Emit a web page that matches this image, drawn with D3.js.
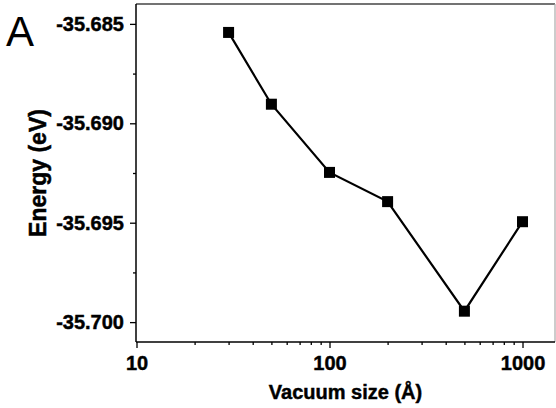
<!DOCTYPE html>
<html><head><meta charset="utf-8">
<script src="https://cdn.jsdelivr.net/npm/d3@7"></script>
<style>body{margin:0;background:#fff}svg{display:block}text{font-family:Arial,"Liberation Sans",sans-serif}</style>
</head><body>
<svg id="c" width="556" height="408"></svg>
<script>
const vacuumSizes = [30, 50, 100, 200, 500, 1000];
const energies = [-35.68543, -35.68904, -35.69247, -35.69394, -35.69945, -35.69495];
const yTicks = [-35.685, -35.690, -35.695, -35.700];
const yMinorTicks = [-35.6875, -35.6925, -35.6975];
const xTicks = [10, 100, 1000];
const xMinorTicks = [20,30,40,50,60,70,80,90,200,300,400,500,600,700,800,900];

const svg = d3.select("#c");
const L = 136, R = 555, T = 4, B = 342;
const x = d3.scaleLog().domain([10, 1470]).range([136.5, 554.8]);
const y = d3.scaleLinear().domain([-35.701, -35.684]).range([B, T]);

// frame top/right
svg.append("line").attr("x1", L).attr("x2", R).attr("y1", T).attr("y2", T).attr("stroke", "#444").attr("stroke-width", 1.5);
svg.append("line").attr("x1", R).attr("x2", R).attr("y1", T).attr("y2", B).attr("stroke", "#aaa").attr("stroke-width", 1.2);

// y axis
const gy = svg.append("g").attr("transform", `translate(${L},0)`);
gy.call(d3.axisLeft(y).tickValues(yTicks).tickFormat(d => d.toFixed(3)).tickSize(6).tickPadding(6));
gy.append("g").call(d3.axisLeft(y).tickValues(yMinorTicks).tickFormat("").tickSize(3)).select(".domain").remove();
// x axis
const gx = svg.append("g").attr("transform", `translate(0,${B})`);
gx.call(d3.axisBottom(x).tickValues(xTicks).tickFormat(d => String(d)).tickSize(6).tickPadding(8));
gx.append("g").call(d3.axisBottom(x).tickValues(xMinorTicks).tickFormat("").tickSize(3)).select(".domain").remove();

svg.selectAll(".domain").attr("stroke", "#000").attr("stroke-width", 1.5);
svg.selectAll(".tick line").attr("stroke", "#000").attr("stroke-width", 1.3);
svg.selectAll(".tick text").attr("font-size", 20).attr("font-weight", "bold").attr("fill", "#000")
   .attr("stroke", "#000").attr("stroke-width", 0.45)
   .attr("font-family", "Arial, 'Liberation Sans', sans-serif");
gy.selectAll(".domain").attr("d", `M0,${T}V${B}`);
gx.selectAll(".domain").attr("d", `M${L},0H${R}`);

// line + markers
const pts = vacuumSizes.map((v, i) => [v, energies[i]]);
svg.append("path").datum(pts)
  .attr("fill", "none").attr("stroke", "#000").attr("stroke-width", 2.2)
  .attr("d", d3.line().x(d => x(d[0])).y(d => y(d[1])));
svg.selectAll("rect.m").data(pts).enter().append("rect").attr("class", "m")
  .attr("x", d => x(d[0]) - 5.5).attr("y", d => y(d[1]) - 5.5)
  .attr("width", 11).attr("height", 11).attr("fill", "#000");

// labels
svg.append("text").attr("x", (L + R) / 2).attr("y", 399).attr("text-anchor", "middle")
  .attr("font-size", 20).attr("font-weight", "bold").attr("stroke", "#000").attr("stroke-width", 0.45)
  .text("Vacuum size (Å)");
svg.append("text").attr("transform", `translate(46,${(T + B) / 2}) rotate(-90)`).attr("text-anchor", "middle")
  .attr("font-size", 23).attr("font-weight", "bold").attr("stroke", "#000").attr("stroke-width", 0.5)
  .text("Energy (eV)");
svg.append("text").attr("x", 6).attr("y", 46).attr("font-size", 42).text("A");
</script>
</body></html>
